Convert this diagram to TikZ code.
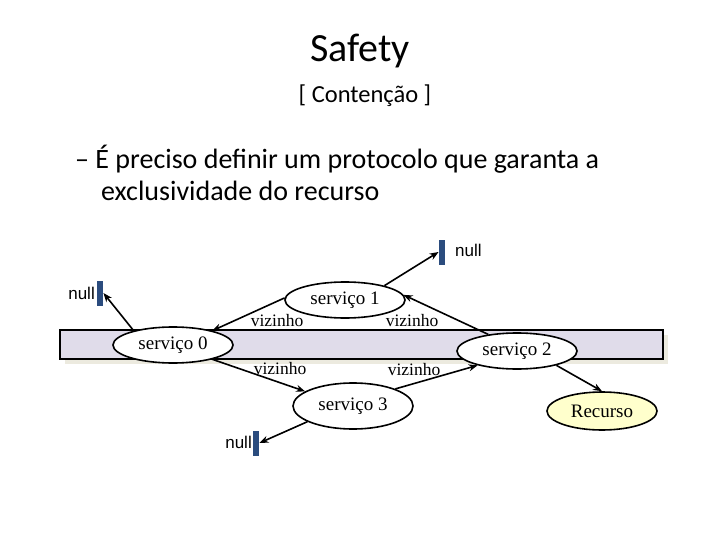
\documentclass[tikz,border=0pt]{standalone}
\usepackage{fontspec}
\setmainfont{Carlito}
\newfontfamily\tmsfont{Liberation Serif}
\newfontfamily\arlfont{Liberation Sans}
\usetikzlibrary{shapes.geometric,arrows.meta}
\definecolor{bandfill}{HTML}{E0DCEA}
\definecolor{bandshadow}{HTML}{ECEADF}
\definecolor{barblue}{HTML}{2B4C7E}
\definecolor{resfill}{HTML}{FFFFCC}
\tikzset{
  svc/.style={ellipse, draw, line width=1.6pt, fill=white, inner sep=0pt,
    minimum width=120pt, minimum height=36pt, font=\tmsfont\fontsize{19}{22}\selectfont},
  nullbar/.style={rectangle, fill=barblue, inner sep=0pt, minimum width=6.5pt, minimum height=25pt},
  nulltxt/.style={font=\arlfont\fontsize{17}{19}\selectfont, inner sep=0pt},
  viz/.style={font=\tmsfont\fontsize{17.5}{20}\selectfont, inner sep=0pt},
  conn/.style={line width=1.6pt, -{Stealth[length=9pt,width=7pt]}},
}
\begin{document}
\begin{tikzpicture}[x=1pt,y=-1pt]
\useasboundingbox (0,0) rectangle (720,540);
% texts
\node[anchor=base, inner sep=0pt, font=\fontsize{40}{46}\selectfont] (title) at (360,62) {Safety};
\node[anchor=base, inner sep=0pt, font=\fontsize{24.5}{29}\selectfont] (sub) at (365,103) {[ Contenção ]};
\node[anchor=base west, inner sep=0pt, font=\fontsize{28}{32}\selectfont] (b1) at (75,169) {– É preciso definir um protocolo que garanta a};
\node[anchor=base west, inner sep=0pt, font=\fontsize{28}{32}\selectfont] (b2) at (101,201) {exclusividade do recurso};
% band
\fill[bandshadow] (65,335) rectangle (668,364);
\draw[fill=bandfill, line width=2pt] (60,330) rectangle (663,359);
% null bars
\node[nullbar] (n1) at (100,293) {};
\node[nullbar] (n2) at (442,252) {};
\node[nullbar] (n3) at (256,443) {};
\node[nulltxt, anchor=east] (t1) at (95,293) {null};
\node[nulltxt, anchor=west] (t2) at (455,250) {null};
\node[nulltxt, anchor=east] (t3) at (252,442) {null};
% services
\node[svc] (s1) at (345,300) {serviço 1};
\node[svc] (s0) at (173,345) {serviço 0};
\node[svc] (s2) at (517,351) {serviço 2};
\node[svc, minimum height=46pt] (s3) at (353,406) {serviço 3};
\node[svc, fill=resfill, minimum width=110pt, minimum height=38pt] (rc) at (602,411) {Recurso};
% connectors
\draw[conn] (s0.160) -- (n1.east);
\draw[conn] (s1.20) -- (n2.west);
\draw[conn] (s1.178) -- (s0.20);
\draw[conn] (s2.150) -- (s1.5);
\draw[conn] (s0.340) -- (s3.163);
\draw[conn] (s3.22) -- (s2.200);
\draw[conn] (s2.340) -- (rc.north);
\draw[conn] (s3.199) -- (n3.east);
% labels
\node[viz] (v1) at (277,321) {vizinho};
\node[viz] (v2) at (412,321) {vizinho};
\node[viz] (v3) at (280,369) {vizinho};
\node[viz] (v4) at (414,370) {vizinho};
\end{tikzpicture}
\end{document}
